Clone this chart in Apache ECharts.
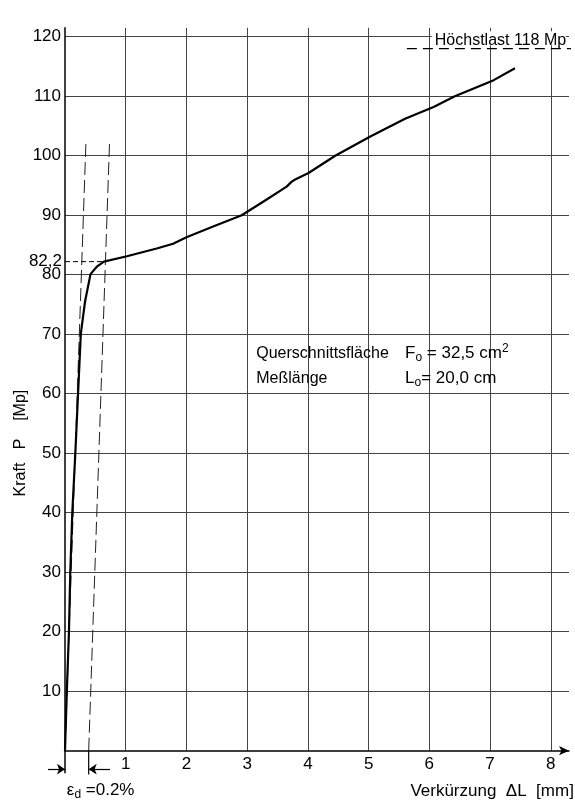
<!DOCTYPE html>
<html><head><meta charset="utf-8">
<script src="https://cdn.jsdelivr.net/npm/echarts@6/dist/echarts.min.js"></script>
<style>html,body{margin:0;padding:0;background:#fff}#c{width:575px;height:802px}</style>
</head><body><div id="c"></div>
<script>
// Force-shortening curve: shortening ΔL [mm] vs force P [Mp]
const curveX = [0, 0.03, 0.065, 0.087, 0.12, 0.17, 0.215, 0.26, 0.33, 0.42, 0.52, 0.64, 1.02, 1.51, 1.78, 2.0, 2.44, 2.91, 3.27, 3.65, 3.73, 3.79, 4.01, 4.45, 5.02, 5.6, 6.07, 6.42, 7.06, 7.41];
const curveY = [0, 10, 20, 30, 40, 50, 60, 70, 75.5, 80.1, 81.3, 82.2, 83.1, 84.4, 85.2, 86.3, 88.1, 90, 92.3, 94.8, 95.6, 96.0, 97.1, 100, 103.2, 106.2, 108.2, 110, 112.7, 114.7];
// elastic line through origin and 0.2% offset line
const elasticX = [0, 0.346];
const elasticY = [0, 102.7];
const offsetX = [0.39, 0.735];
const offsetY = [0, 102.7];
// yield load and maximum load
const yieldLoad = 82.2;
const yieldX = 0.64;
const maxLoad = 118;
const maxLoadFromX = 5.63;
const xTicks = [1, 2, 3, 4, 5, 6, 7, 8];
const yTicks = [10, 20, 30, 40, 50, 60, 70, 80, 90, 100, 110, 120];
const FONT = 'Liberation Sans';

const zip = (a, b) => a.map((v, i) => [v, b[i]]);
const chart = echarts.init(document.getElementById('c'));
const dashStyle = { color: '#222', width: 1, type: [13, 5] };

chart.setOption({
  animation: false,
  backgroundColor: '#fff',
  grid: { left: 65, top: 27.8, width: 504, height: 722.9, containLabel: false },
  xAxis: {
    type: 'value', min: 0, max: 8.3, interval: 1,
    axisLine: { show: true, lineStyle: { color: '#000', width: 1.5 }, symbol: ['none', 'arrow'], symbolSize: [7, 10] },
    axisTick: { show: false },
    axisLabel: { margin: 5, color: '#000', fontFamily: FONT, fontSize: 17,
      formatter: v => xTicks.includes(v) ? String(v) : '' },
    splitLine: { show: true, showMinLine: false, showMaxLine: false, lineStyle: { color: '#444', width: 1 } }
  },
  yAxis: {
    type: 'value', min: 0, max: 121.5, interval: 10,
    axisLine: { show: true, lineStyle: { color: '#000', width: 1.5 } },
    axisTick: { show: false },
    axisLabel: { margin: 4, color: '#000', fontFamily: FONT, fontSize: 17,
      formatter: v => yTicks.includes(v) ? String(v) : '' },
    splitLine: { show: true, showMinLine: false, showMaxLine: false, lineStyle: { color: '#444', width: 1 } }
  },
  series: [
    { type: 'line', data: zip(curveX, curveY), symbol: 'none', z: 5,
      lineStyle: { color: '#000', width: 2.2 } },
    { type: 'line', data: zip(elasticX, elasticY), symbol: 'none', lineStyle: dashStyle },
    { type: 'line', data: zip(offsetX, offsetY), symbol: 'none', lineStyle: dashStyle },
    { type: 'line', data: [[0, yieldLoad], [yieldX, yieldLoad]], symbol: 'none',
      lineStyle: { color: '#000', width: 1, type: [5, 3] } },
    { type: 'line', data: [[maxLoadFromX, maxLoad], [8.42, maxLoad]], symbol: 'none', clip: false,
      lineStyle: { color: '#000', width: 1.2, type: [10, 6] } },
    // axis and offset-line extensions below the x axis
    { type: 'line', data: [[0, 0], [0, -3.8]], symbol: 'none', clip: false,
      lineStyle: { color: '#000', width: 1.5 } },
    { type: 'line', data: [[offsetX[0], 0], [offsetX[0], -4]], symbol: 'none', clip: false,
      lineStyle: { color: '#000', width: 1.2 } },
    // ε_d arrows
    { type: 'lines', coordinateSystem: 'cartesian2d', clip: false, symbol: ['none', 'arrow'], symbolSize: 8,
      lineStyle: { color: '#000', width: 1.2, opacity: 1 },
      data: [ { coords: [[-0.28, -3.1], [0, -3.1]] }, { coords: [[0.74, -3.1], [offsetX[0], -3.1]] } ] }
  ]
});

const P = (x, y) => chart.convertToPixel({ gridIndex: 0 }, [x, y]);
const txt = (pos, text, opts) => Object.assign({ type: 'text', x: pos[0], y: pos[1], silent: true,
  style: Object.assign({ text, fill: '#000', font: '16px ' + FONT, textVerticalAlign: 'middle' }, opts || {}) });
const richBase = {
  t: { font: '17px ' + FONT, fill: '#000' },
  s: { font: '12px ' + FONT, fill: '#000', padding: [9, 0, 0, 0] },
  p: { font: '12px ' + FONT, fill: '#000', padding: [0, 0, 9, 0] }
};
const richTxt = (pos, text) => ({ type: 'text', x: pos[0], y: pos[1], silent: true,
  style: { text, textVerticalAlign: 'middle', rich: richBase } });

const pYield = P(0, yieldLoad);
const pMax = P(6.09, 119.4);
const pQ = P(3.15, 66.8);
const pF = P(5.6, 66.8);
const pM = P(3.15, 62.6);
const pL = P(5.6, 62.6);
const pE = P(0.03, -6.6);
const pV = P(8.38, -6.8);
const pK = P(-0.725, 51.7);

chart.setOption({
  graphic: [
    txt([pYield[0] - 3, pYield[1]], '82,2', { font: '17px ' + FONT, textAlign: 'right' }),
    { type: 'rect', shape: { x: pMax[0] - 3, y: pMax[1] - 9, width: 134, height: 14 }, style: { fill: '#fff' }, z: 50 },
    Object.assign(txt(pMax, 'Höchstlast 118 Mp'), { z: 51 }),
    txt(pQ, 'Querschnittsfläche'),
    richTxt(pF, '{t|F}{s|o}{t| = 32,5 cm}{p|2}'),
    txt(pM, 'Meßlänge'),
    richTxt(pL, '{t|L}{s|o}{t|= 20,0 cm}'),
    richTxt(pE, '{t|ε}{s|d}{t| =0.2%}'),
    txt(pV, 'Verkürzung  ΔL  [mm]', { textAlign: 'right', font: '17px ' + FONT }),
    Object.assign(txt([0, 0], 'Kraft   P    [Mp]', { textAlign: 'center' }), { x: pK[0], y: pK[1], rotation: Math.PI / 2 })
  ]
});
</script></body></html>
